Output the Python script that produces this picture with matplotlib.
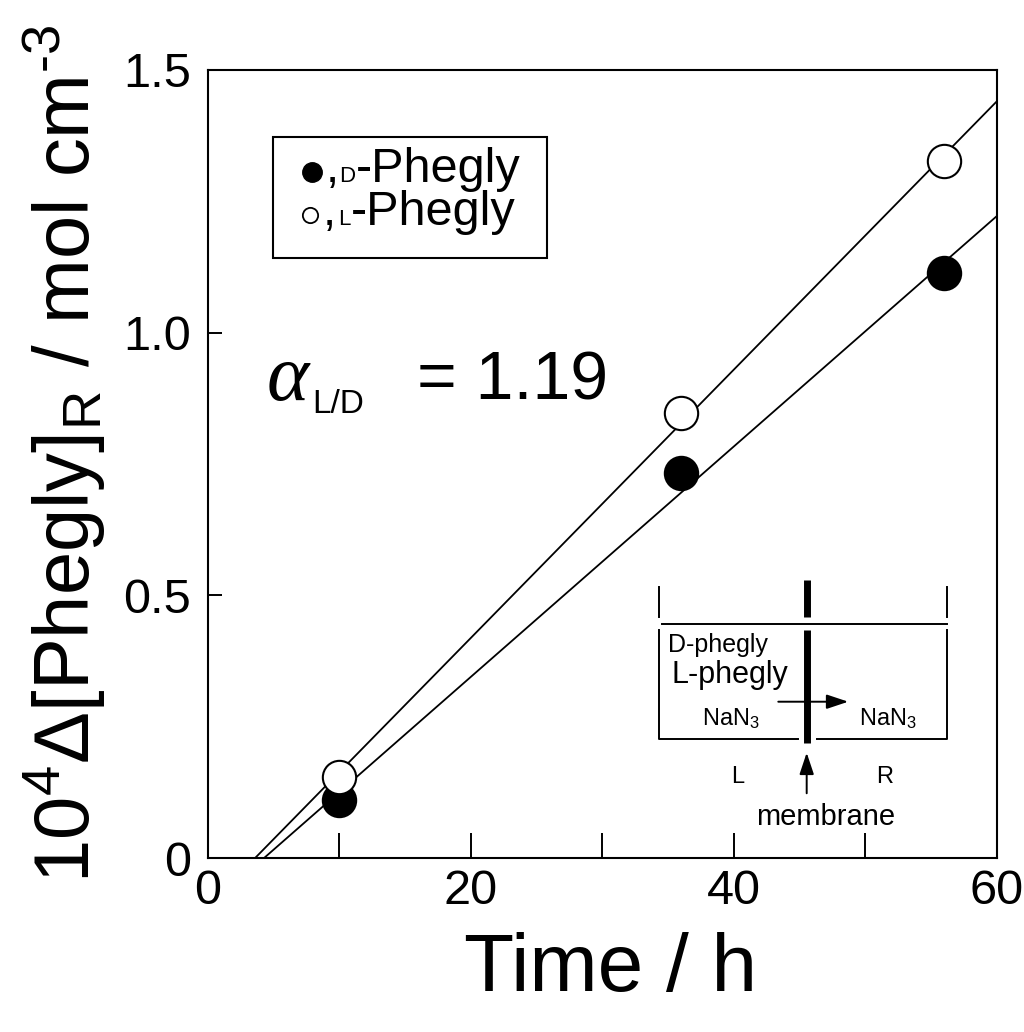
import numpy as np
import matplotlib
matplotlib.use('Agg')
import matplotlib.pyplot as plt
from matplotlib.patches import Rectangle

plt.rcParams['font.family'] = ['Liberation Sans', 'DejaVu Sans']
plt.rcParams['mathtext.fontset'] = 'custom'
plt.rcParams['mathtext.rm'] = 'Liberation Sans'
plt.rcParams['mathtext.it'] = 'Liberation Sans:italic'
plt.rcParams['mathtext.bf'] = 'Liberation Sans:bold'

# data
time_h = [10, 36, 56]
d_phegly = [0.110, 0.732, 1.114]
l_phegly = [0.155, 0.848, 1.327]

x_ticks = [0, 10, 20, 30, 40, 50, 60]
x_ticklabels = ['0', '', '20', '', '40', '', '60']
y_ticks = [0, 0.5, 1.0, 1.5]
y_ticklabels = ['0', '0.5', '1.0', '1.5']

fig = plt.figure(figsize=(10.24, 10.32), dpi=100)
ax = fig.add_axes([0.2031, 0.1686, 0.7705, 0.7636])

# fitted lines
xx = np.array([0, 60])
for yv in (l_phegly, d_phegly):
    k, b = np.polyfit(time_h, yv, 1)
    ax.plot(xx, k * xx + b, color='k', lw=1.3, zorder=2)

ax.plot(time_h, d_phegly, 'o', ms=24, mfc='k', mec='k', mew=1.5, zorder=3)
ax.plot(time_h, l_phegly, 'o', ms=24, mfc='white', mec='k', mew=1.5, zorder=3)

ax.set_xlim(0, 60)
ax.set_ylim(0, 1.5)
ax.set_xticks(x_ticks)
ax.set_xticklabels(x_ticklabels)
ax.set_yticks(y_ticks)
ax.set_yticklabels(y_ticklabels)
ax.tick_params(axis='x', direction='in', length=18, width=1.4, labelsize=35, pad=8)
ax.tick_params(axis='y', direction='in', length=10, width=1.4, labelsize=35, pad=12)
for s in ax.spines.values():
    s.set_linewidth(1.5)

ax.set_xlabel('Time / h', fontsize=59)
ax.xaxis.set_label_coords(0.51, -0.094)
ax.set_ylabel(r'$\mathregular{10^4\Delta[Phegly]_R\ /\ mol\ cm^{\text{-}3}}$', fontsize=56)
ax.yaxis.label.set_va('center')
ax.yaxis.set_label_coords(-0.181, 0.513)

# legend box
ax.add_patch(Rectangle((0.0828, 0.7610), 0.3465, 0.1544, transform=ax.transAxes,
                       fill=False, ec='k', lw=1.5, zorder=4))
ax.plot([0.1314], [0.8709], 'o', ms=14, mfc='k', mec='k', transform=ax.transAxes, zorder=5)
ax.plot([0.1293], [0.8160], 'o', ms=11, mfc='white', mec='k', mew=1.3,
        transform=ax.transAxes, zorder=5)
ax.text(0.1490, 0.8583, ',', fontsize=34, transform=ax.transAxes, va='baseline')
ax.text(0.1668, 0.8583, 'D', fontsize=16, transform=ax.transAxes, va='baseline')
ax.text(0.1875, 0.8583, '-Phegly', fontsize=35, transform=ax.transAxes, va='baseline')
ax.text(0.1460, 0.8033, ',', fontsize=34, transform=ax.transAxes, va='baseline')
ax.text(0.1648, 0.8033, 'L', fontsize=16, transform=ax.transAxes, va='baseline')
ax.text(0.1815, 0.8033, '-Phegly', fontsize=35, transform=ax.transAxes, va='baseline')

# separation factor
ax.text(4.49, 0.872, '\u03b1', fontsize=58, va='baseline',
        family='Liberation Serif', style='italic')
ax.text(7.91, 0.847, 'L/D', fontsize=24, va='baseline')
ax.text(15.89, 0.872, '= 1.19', fontsize=49, va='baseline')

# cell schematic
lw = 1.4
ax.plot([34.32, 34.32], [0.4593, 0.5164], 'k-', lw=lw)
ax.plot([56.22, 56.22], [0.4593, 0.5164], 'k-', lw=lw)
ax.plot([45.57, 45.57], [0.4588, 0.5292], 'k-', lw=5, solid_capstyle='butt')
ax.plot([34.50, 56.17], [0.4454, 0.4454], 'k-', lw=lw)
ax.plot([34.32, 34.32, 44.89], [0.4340, 0.2260, 0.2260], 'k-', lw=lw)
ax.plot([46.29, 56.22, 56.22], [0.2260, 0.2260, 0.4340], 'k-', lw=lw)
ax.plot([45.57, 45.57], [0.2195, 0.4340], 'k-', lw=5, solid_capstyle='butt')
ax.annotate('', xy=(48.69, 0.2975), xytext=(43.37, 0.2975),
            arrowprops=dict(arrowstyle='-|>,head_length=0.6,head_width=0.2', color='k',
                            lw=1.4, mutation_scale=22, shrinkA=0, shrinkB=0))
ax.annotate('', xy=(45.53, 0.2004), xytext=(45.53, 0.1232),
            arrowprops=dict(arrowstyle='-|>,head_length=0.6,head_width=0.2', color='k',
                            lw=1.4, mutation_scale=22, shrinkA=0, shrinkB=0))
ax.text(34.98, 0.3927, 'D-phegly', fontsize=18, va='baseline')
ax.text(35.26, 0.3325, 'L-phegly', fontsize=22, va='baseline')
ax.text(39.76, 0.2532, r'NaN$_3$', fontsize=17, ha='center', va='baseline')
ax.text(51.71, 0.2532, r'NaN$_3$', fontsize=17, ha='center', va='baseline')
ax.text(40.27, 0.1422, 'L', fontsize=17, ha='center', va='baseline')
ax.text(51.48, 0.1422, 'R', fontsize=17, ha='center', va='baseline')
ax.text(46.98, 0.0628, 'membrane', fontsize=21, ha='center', va='baseline')

fig.savefig('out.png', dpi=100)
